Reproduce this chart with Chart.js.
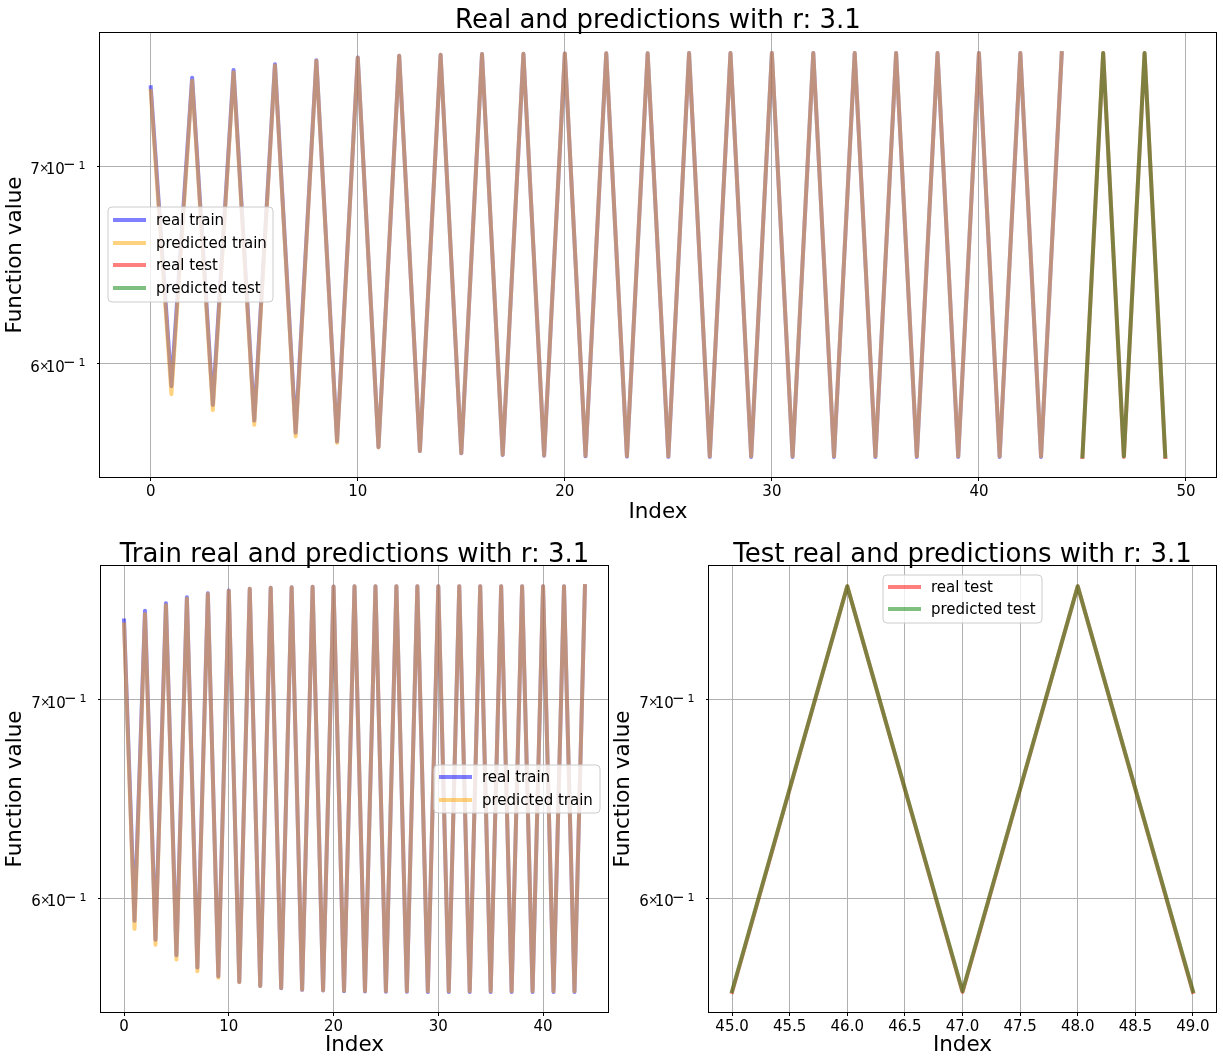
<!DOCTYPE html>
<html>
<head>
<meta charset="utf-8">
<script src="https://cdn.jsdelivr.net/npm/chart.js@4.4.1/dist/chart.umd.min.js"></script>
<style>
html, body { margin: 0; padding: 0; background: #ffffff; }
#wrap { position: relative; width: 1223px; height: 1064px; background: #ffffff; overflow: hidden; }
canvas { position: absolute; }
</style>
</head>
<body>
<div id="wrap">
  <canvas id="cTop" width="1223" height="530" style="left:0px;top:0px;width:1223px;height:530px"></canvas>
  <canvas id="cTrain" width="615" height="534" style="left:0px;top:530px;width:615px;height:534px"></canvas>
  <canvas id="cTest" width="615" height="534" style="left:608px;top:530px;width:615px;height:534px"></canvas>
</div>
<script>
// ---------------- DATA ----------------
const trainIndex = [0,1,2,3,4,5,6,7,8,9,10,11,12,13,14,15,16,17,18,19,20,21,22,23,24,25,26,27,28,29,30,31,32,33,34,35,36,37,38,39,40,41,42,43,44];
const testIndex = [45,46,47,48,49];

const realTrain = [
  0.7445, 0.5897, 0.7501, 0.5811, 0.7546, 0.5741, 0.7580, 0.5687, 0.7604, 0.5648,
  0.7620, 0.5623, 0.7630, 0.5606, 0.7636, 0.5596, 0.7640, 0.5589, 0.7642, 0.5586,
  0.7644, 0.5583, 0.7645, 0.5582, 0.7645, 0.5581, 0.7646, 0.5581, 0.7646, 0.5580,
  0.7646, 0.5580, 0.7646, 0.5580, 0.7646, 0.5580, 0.7646, 0.5580, 0.7646, 0.5580,
  0.7646, 0.5580, 0.7646, 0.5580, 0.7646
];
const predictedTrain = [
  0.7422, 0.5860, 0.7483, 0.5788, 0.7533, 0.5722, 0.7572, 0.5670, 0.7600, 0.5642,
  0.7618, 0.5622, 0.7630, 0.5606, 0.7636, 0.5597, 0.7640, 0.5590, 0.7642, 0.5587,
  0.7644, 0.5585, 0.7645, 0.5584, 0.7645, 0.5583, 0.7646, 0.5583, 0.7646, 0.5583,
  0.7646, 0.5583, 0.7646, 0.5583, 0.7646, 0.5583, 0.7646, 0.5583, 0.7646, 0.5583,
  0.7646, 0.5583, 0.7646, 0.5583, 0.7646
];
const realTest = [0.5580, 0.7646, 0.5580, 0.7646, 0.5580];
const predictedTest = [0.5583, 0.7646, 0.5583, 0.7646, 0.5583];

const seriesLabels = ['real train', 'predicted train', 'real test', 'predicted test'];
const chartTitles = ['Real and predictions with r: 3.1', 'Train real and predictions with r: 3.1', 'Test real and predictions with r: 3.1'];
const xAxisLabel = 'Index';
const yAxisLabel = 'Function value';

// y tick labels written as mantissa × base^exponent (e.g. 7×10^−1)
const yTickValues = [0.6, 0.7];
const yTickMantissas = ['6', '7'];
const yTickBase = '10';
const yTickExponents = ['\u22121', '\u22121'];
const topXTickValues = [0, 10, 20, 30, 40, 50];
const topXTickLabels = ['0', '10', '20', '30', '40', '50'];
const trainXTickValues = [0, 10, 20, 30, 40];
const trainXTickLabels = ['0', '10', '20', '30', '40'];
const testXTickValues = [45.0, 45.5, 46.0, 46.5, 47.0, 47.5, 48.0, 48.5, 49.0];
const testXTickLabels = ['45.0', '45.5', '46.0', '46.5', '47.0', '47.5', '48.0', '48.5', '49.0'];

// axis limits (matplotlib-like margins)
const yLimits = [0.54937, 0.77667];
const topXLimits = [-2.45, 51.45];
const trainXLimits = [-2.2, 46.2];
const testXLimits = [44.8, 49.2];

// ---------------- STYLE ----------------
const seriesColors = ['rgba(0,0,255,0.5)', 'rgba(255,165,0,0.5)', 'rgba(255,0,0,0.5)', 'rgba(0,128,0,0.5)'];
const FONT = "'DejaVu Sans', 'Liberation Sans', sans-serif";
Chart.defaults.font.family = FONT;
Chart.defaults.color = '#000000';

function pts(xs, ys) { return xs.map((x, i) => ({ x: x, y: ys[i] })); }

function ds(k, xs, ys) {
  return {
    label: seriesLabels[k],
    data: pts(xs, ys),
    borderColor: seriesColors[k],
    backgroundColor: seriesColors[k],
    borderWidth: 4,
    pointRadius: 0,
    tension: 0,
    fill: false,
    borderJoinStyle: 'round',
    borderCapStyle: 'square',
    order: 4 - k
  };
}

const mplDecor = {
  id: 'mplDecor',
  afterDatasetsDraw(chart, args, o) {
    const ctx = chart.ctx, a = chart.chartArea;
    ctx.save();
    // spines
    ctx.strokeStyle = '#000000';
    ctx.lineWidth = 1;
    ctx.strokeRect(Math.round(a.left) - 0.5, Math.round(a.top) - 0.5, Math.round(a.right - a.left) + 1, Math.round(a.bottom - a.top) + 1);
    // title
    ctx.fillStyle = '#000000';
    ctx.font = "26px " + FONT;
    ctx.textAlign = 'center';
    ctx.textBaseline = 'alphabetic';
    ctx.fillText(o.title, (a.left + a.right) / 2, o.titleBaseline);
    // y tick labels (mathtext style: mantissa × 10^exp)
    const ys = chart.scales.y;
    yTickValues.forEach((v, i) => {
      const py = ys.getPixelForValue(v);
      const L = a.left;
      ctx.textAlign = 'left';
      ctx.textBaseline = 'alphabetic';
      ctx.font = "15px " + FONT;
      ctx.fillText(yTickMantissas[i], L - 69.8, py + 8);
      ctx.fillText(yTickBase, L - 54.2, py + 8);
      ctx.font = "12px " + FONT;
      ctx.fillText('\u00d7', L - 60.7, py + 6);
      const ex = yTickExponents[i];
      ctx.font = "15px " + FONT;
      ctx.fillText(ex.charAt(0), L - 36.9, py + 3.2);
      ctx.font = "11px " + FONT;
      ctx.fillText(ex.slice(1), L - 21.5, py + 2.3);
    });
    // legend
    const Lg = o.legend;
    ctx.beginPath();
    const r = 4, x = Lg.x, y = Lg.y, w = Lg.w, h = Lg.h;
    ctx.moveTo(x + r, y);
    ctx.lineTo(x + w - r, y); ctx.quadraticCurveTo(x + w, y, x + w, y + r);
    ctx.lineTo(x + w, y + h - r); ctx.quadraticCurveTo(x + w, y + h, x + w - r, y + h);
    ctx.lineTo(x + r, y + h); ctx.quadraticCurveTo(x, y + h, x, y + h - r);
    ctx.lineTo(x, y + r); ctx.quadraticCurveTo(x, y, x + r, y);
    ctx.closePath();
    ctx.fillStyle = 'rgba(255,255,255,0.8)';
    ctx.fill();
    ctx.strokeStyle = '#cccccc';
    ctx.lineWidth = 1;
    ctx.stroke();
    ctx.font = "15px " + FONT;
    ctx.textAlign = 'left';
    ctx.textBaseline = 'middle';
    Lg.items.forEach((di, j) => {
      const d = chart.data.datasets[di];
      const yy = Lg.rows[j];
      ctx.strokeStyle = d.borderColor;
      ctx.lineWidth = 4;
      ctx.lineCap = 'butt';
      ctx.beginPath();
      ctx.moveTo(Lg.lineX0, yy);
      ctx.lineTo(Lg.lineX1, yy);
      ctx.stroke();
      ctx.fillStyle = '#000000';
      ctx.fillText(d.label, Lg.textX, yy + 1);
    });
    ctx.restore();
  }
};

function buildChart(id, cfg) {
  return new Chart(document.getElementById(id), {
    type: 'line',
    data: { datasets: cfg.datasets },
    plugins: [mplDecor],
    options: {
      responsive: false,
      animation: false,
      devicePixelRatio: 1,
      layout: { padding: cfg.padding },
      plugins: {
        legend: { display: false },
        tooltip: { enabled: false },
        title: { display: false },
        mplDecor: { title: cfg.title, titleBaseline: cfg.titleBaseline, legend: cfg.legend }
      },
      scales: {
        x: {
          type: 'linear',
          min: cfg.xLimits[0],
          max: cfg.xLimits[1],
          afterBuildTicks: s => { s.ticks = cfg.xTickValues.map(v => ({ value: v })); },
          afterFit: s => { s.height = cfg.xAxisHeight; },
          ticks: {
            autoSkip: false, maxRotation: 0, minRotation: 0,
            padding: 2,
            font: { size: 15 },
            color: '#000000',
            callback: (v, i) => cfg.xTickLabels[i]
          },
          grid: { color: '#b0b0b0', lineWidth: 1, tickLength: 4, tickColor: '#000000', tickWidth: 1 },
          border: { display: false },
          title: { display: true, text: xAxisLabel, font: { size: 21.5 }, color: '#000000', padding: { top: 0, bottom: cfg.xTitlePad } }
        },
        y: {
          type: 'logarithmic',
          min: yLimits[0],
          max: yLimits[1],
          afterBuildTicks: s => { s.ticks = yTickValues.map(v => ({ value: v })); },
          afterFit: s => { s.width = cfg.yAxisWidth; },
          ticks: { display: false, autoSkip: false },
          grid: { color: '#b0b0b0', lineWidth: 1, tickLength: 3, tickColor: '#000000', tickWidth: 1 },
          border: { display: false },
          title: { display: true, text: yAxisLabel, font: { size: 21.5 }, color: '#000000', padding: { top: 3, bottom: 0 } }
        }
      }
    }
  });
}

buildChart('cTop', {
  datasets: [ds(0, trainIndex, realTrain), ds(1, trainIndex, predictedTrain), ds(2, testIndex, realTest), ds(3, testIndex, predictedTest)],
  padding: { top: 33, right: 7, left: 0, bottom: 0 },
  xLimits: topXLimits, xTickValues: topXTickValues, xTickLabels: topXTickLabels,
  xAxisHeight: 53, yAxisWidth: 100, xTitlePad: 5,
  title: chartTitles[0], titleBaseline: 28,
  legend: { x: 108, y: 207, w: 165, h: 95, items: [0, 1, 2, 3], rows: [220, 243, 265, 288], lineX0: 113, lineX1: 146, textX: 156 }
});

buildChart('cTrain', {
  datasets: [ds(0, trainIndex, realTrain), ds(1, trainIndex, predictedTrain)],
  padding: { top: 36, right: 7, left: 0, bottom: 0 },
  xLimits: trainXLimits, xTickValues: trainXTickValues, xTickLabels: trainXTickLabels,
  xAxisHeight: 52, yAxisWidth: 101, xTitlePad: 6,
  title: chartTitles[1], titleBaseline: 32,
  legend: { x: 434, y: 235, w: 166, h: 48, items: [0, 1], rows: [247, 270], lineX0: 439, lineX1: 472, textX: 482 }
});

buildChart('cTest', {
  datasets: [ds(2, testIndex, realTest), ds(3, testIndex, predictedTest)],
  padding: { top: 36, right: 7, left: 0, bottom: 0 },
  xLimits: testXLimits, xTickValues: testXTickValues, xTickLabels: testXTickLabels,
  xAxisHeight: 52, yAxisWidth: 101, xTitlePad: 6,
  title: chartTitles[2], titleBaseline: 32,
  legend: { x: 275, y: 45, w: 159, h: 48, items: [0, 1], rows: [57, 79], lineX0: 280, lineX1: 313, textX: 323 }
});
</script>
</body>
</html>
